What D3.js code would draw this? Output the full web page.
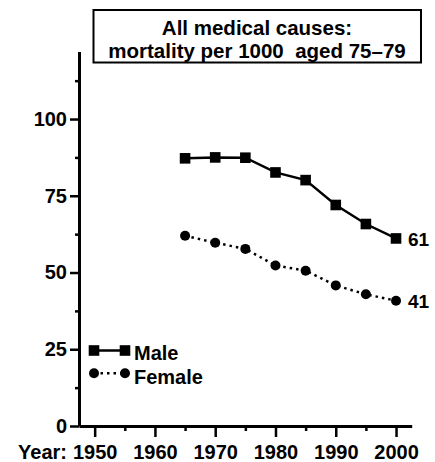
<!DOCTYPE html>
<html>
<head>
<meta charset="utf-8">
<script src="https://cdn.jsdelivr.net/npm/d3@7"></script>
<style>
	body { margin: 0; background: #fff; }
	text { font-family: Arial, "Liberation Sans", sans-serif; font-weight: bold; fill: #000; }
</style>
</head>
<body>
<svg id="chart" width="435" height="462"></svg>
<script>
// Data
var years = [1965, 1970, 1975, 1980, 1985, 1990, 1995, 2000];
var male = [87.2, 87.5, 87.4, 82.6, 80.1, 72.0, 65.8, 61.1];
var female = [62.0, 59.7, 57.7, 52.3, 50.6, 45.8, 42.9, 40.8];
var yMajor = [0, 25, 50, 75, 100];
var yMinor = [12.5, 37.5, 62.5, 87.5, 112.5];
var xMajor = [1950, 1960, 1970, 1980, 1990, 2000];
var xMinor = [1955, 1965, 1975, 1985, 1995];
var titleLines = ["All medical causes:", "mortality per 1000\u00a0 aged 75\u201379"];

var svg = d3.select("#chart");

var x = d3.scaleLinear().domain([1947.4, 2002.6]).range([79, 411.7]);
var y = d3.scaleLinear().domain([0, 122]).range([426, 51.5]);

// Title box
var title = svg.append("g");
title.append("rect")
	.attr("x", 93.5).attr("y", 10)
	.attr("width", 327.5).attr("height", 52.5)
	.attr("fill", "none").attr("stroke", "#000").attr("stroke-width", 2);
title.selectAll("text")
	.data(titleLines)
	.enter().append("text")
		.attr("x", 257)
		.attr("y", function(d, i) { return 34.5 + i * 23; })
		.attr("text-anchor", "middle")
		.style("font-size", "20.5px")
		.text(function(d) { return d; });

// Y axis
svg.append("g")
	.attr("transform", "translate(" + x.range()[0] + ",0)")
	.call(d3.axisLeft(y).tickValues(yMajor).tickSize(9).tickSizeOuter(0).tickPadding(3));
svg.append("g")
	.attr("transform", "translate(" + x.range()[0] + ",0)")
	.call(d3.axisLeft(y).tickValues(yMinor).tickSize(4).tickSizeOuter(0).tickFormat(""))
	.select(".domain").remove();

// X axis
svg.append("g")
	.attr("transform", "translate(0," + y(0) + ")")
	.call(d3.axisBottom(x).tickValues(xMajor).tickSize(11).tickSizeOuter(0).tickPadding(8).tickFormat(d3.format("d")));
svg.append("g")
	.attr("transform", "translate(0," + y(0) + ")")
	.call(d3.axisBottom(x).tickValues(xMinor).tickSize(5).tickSizeOuter(0).tickFormat(""))
	.select(".domain").remove();

svg.selectAll(".domain").attr("stroke-width", 3).attr("stroke", "#000");
svg.selectAll(".tick line").attr("stroke-width", 2.5).attr("stroke", "#000");
svg.selectAll(".tick text")
	.style("font-size", "20px")
	.style("font-family", "Arial, 'Liberation Sans', sans-serif")
	.style("font-weight", "bold")
	.attr("fill", "#000");

svg.append("text")
	.attr("x", 67)
	.attr("y", 459)
	.attr("text-anchor", "end")
	.style("font-size", "20px")
	.text("Year:");

// Series
var line = d3.line()
	.x(function(d, i) { return x(years[i]); })
	.y(function(d) { return y(d); });

svg.append("path")
	.datum(male)
	.attr("d", line)
	.attr("fill", "none")
	.attr("stroke", "#000")
	.attr("stroke-width", 2.5);

svg.append("path")
	.datum(female)
	.attr("d", line)
	.attr("fill", "none")
	.attr("stroke", "#000")
	.attr("stroke-width", 2.5)
	.attr("stroke-dasharray", "2.5,4");

svg.selectAll(".male-pt")
	.data(male)
	.enter().append("rect")
		.attr("class", "male-pt")
		.attr("x", function(d, i) { return x(years[i]) - 5.3; })
		.attr("y", function(d) { return y(d) - 5.3; })
		.attr("width", 10.6).attr("height", 10.6)
		.attr("fill", "#000");

svg.selectAll(".female-pt")
	.data(female)
	.enter().append("circle")
		.attr("class", "female-pt")
		.attr("cx", function(d, i) { return x(years[i]); })
		.attr("cy", function(d) { return y(d); })
		.attr("r", 5)
		.attr("fill", "#000");

// End labels
var last = years.length - 1;
svg.append("text")
	.attr("x", x(years[last]) + 12)
	.attr("y", y(male[last]) + 7.5)
	.style("font-size", "19px")
	.text(Math.round(male[last]));
svg.append("text")
	.attr("x", x(years[last]) + 12)
	.attr("y", y(female[last]) + 7)
	.style("font-size", "19px")
	.text(Math.round(female[last]));

// Legend
var legend = svg.append("g");
legend.append("line")
	.attr("x1", 94).attr("x2", 125).attr("y1", 350.5).attr("y2", 350.5)
	.attr("stroke", "#000").attr("stroke-width", 2.5);
legend.selectAll("rect.lg")
	.data([94, 125])
	.enter().append("rect")
		.attr("x", function(d) { return d - 5.3; })
		.attr("y", 345.2)
		.attr("width", 10.6).attr("height", 10.6)
		.attr("fill", "#000");
legend.append("line")
	.attr("x1", 94).attr("x2", 125).attr("y1", 373.3).attr("y2", 373.3)
	.attr("stroke", "#000").attr("stroke-width", 2.5)
	.attr("stroke-dasharray", "2.5,4");
legend.selectAll("circle.lg")
	.data([94, 125])
	.enter().append("circle")
		.attr("cx", function(d) { return d; })
		.attr("cy", 373.3)
		.attr("r", 5)
		.attr("fill", "#000");
legend.append("text").attr("x", 134).attr("y", 359.5).style("font-size", "20px").text("Male");
legend.append("text").attr("x", 134).attr("y", 383.5).style("font-size", "20px").text("Female");
</script>
</body>
</html>
